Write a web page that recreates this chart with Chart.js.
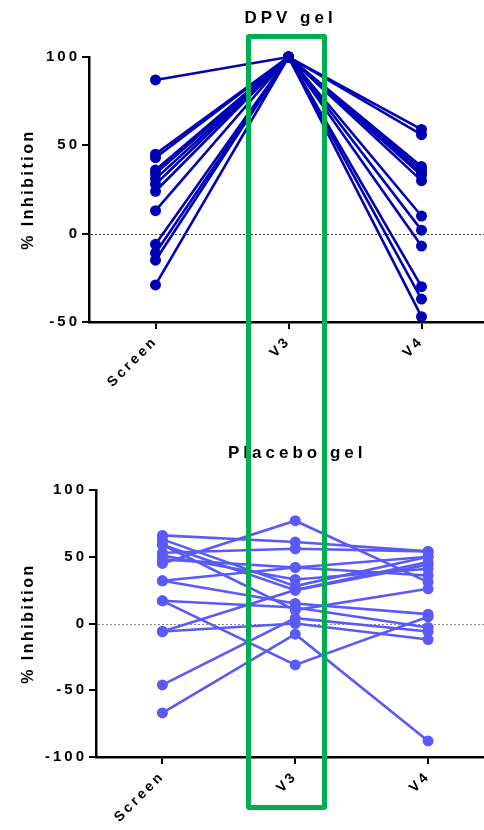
<!DOCTYPE html>
<html>
<head>
<meta charset="utf-8">
<script src="https://cdn.jsdelivr.net/npm/chart.js@4"></script>
<style>
  html, body { margin: 0; padding: 0; background: #fff; overflow: hidden; }
  #page { position: relative; width: 484px; height: 830px; overflow: hidden; }
  .panel { position: absolute; left: 0; }
  #highlight {
    position: absolute; left: 246px; top: 34px; width: 71px; height: 766px;
    border: 5px solid #00B050; border-radius: 3px; pointer-events: none;
  }
</style>
</head>
<body>
<div id="page">
  <div class="panel" style="top:0"><canvas id="dpvChart" width="500" height="400"></canvas></div>
  <div class="panel" style="top:400px"><canvas id="placeboChart" width="500" height="430"></canvas></div>
  <div id="highlight"></div>
</div>
<script>
const categories = ['Screen', 'V3', 'V4'];

// DPV gel arm, one entry per participant
const dpvScreen = [87, 45, 43, 36, 34, 31, 28, 24, 13, -6, -11, -15, -29];
const dpvV3 = [100, 100, 100, 100, 100, 100, 100, 100, 100, 100, 100, 100, 100];
const dpvV4 = [59, 56, 38, 36, 33, 34, 30, 10, 2, -7, -30, -37, -47];
const dpvTicks = [-50, 0, 50, 100];

// Placebo gel arm
const placeboScreen = [66, 63, 59, 53, 51, 48, 45, 32, 32, 17, 17, -6, -6, -46, -67, 59];
const placeboV3 = [61, 28, 25, 56, 33, 42, 77, 42, 15, 12, -31, 25, 0, 4, -8, 10];
const placeboV4 = [54, 50, 46, 54, 41, 50, 31, 36, 7, -3, 5, 44, -12, -6, -88, 26];
const placeboTicks = [-100, -50, 0, 50, 100];

const FONT = 'Arial, "Liberation Sans", sans-serif';

const spacing = {
  id: 'spacing',
  beforeUpdate(chart) { chart.ctx.letterSpacing = '3px'; },
  beforeDraw(chart) { chart.ctx.letterSpacing = '3px'; }
};

// dotted reference line at 0 and the text around the plot
const decorations = {
  id: 'decorations',
  beforeDatasetsDraw(chart, args, opts) {
    const { ctx, chartArea } = chart;
    const y = chart.scales.y.getPixelForValue(0);
    ctx.save();
    ctx.strokeStyle = opts.zeroColor;
    ctx.lineWidth = 1;
    ctx.setLineDash([2, 2]);
    ctx.beginPath();
    ctx.moveTo(chartArea.left + 2, Math.round(y) + 0.5);
    ctx.lineTo(chart.width, Math.round(y) + 0.5);
    ctx.stroke();
    ctx.restore();
  },
  afterDraw(chart, args, opts) {
    const { ctx, chartArea } = chart;
    ctx.save();
    ctx.fillStyle = '#000';
    ctx.letterSpacing = '4px';
    ctx.font = 'bold 17px ' + FONT;
    ctx.textAlign = 'center';
    ctx.textBaseline = 'middle';
    ctx.fillText(opts.title, (chartArea.left + chartArea.right) / 2 + 2, opts.titleY);
    ctx.letterSpacing = '2.5px';
    ctx.font = 'bold 16px ' + FONT;
    ctx.translate(29, (chartArea.top + chartArea.bottom) / 2);
    ctx.rotate(-Math.PI / 2);
    ctx.fillText('% Inhibition', 0, 0);
    ctx.restore();
  }
};

function makeChart(id, screen, v3, v4, ticks, color, box) {
  const datasets = screen.map((s, i) => ({
    data: [{ x: 0, y: s }, { x: 1, y: v3[i] }, { x: 2, y: v4[i] }],
    borderColor: color,
    backgroundColor: color,
    borderWidth: 2.6,
    pointRadius: 5.5,
    pointBorderWidth: 0,
    clip: false
  }));
  return new Chart(document.getElementById(id), {
    type: 'line',
    data: { datasets },
    plugins: [spacing, decorations],
    options: {
      responsive: false,
      animation: false,
      layout: { padding: { top: box.top, right: box.right, left: 0, bottom: 0 } },
      plugins: {
        legend: { display: false },
        tooltip: { enabled: false },
        decorations: { title: box.title, titleY: box.titleY, zeroColor: box.zeroColor }
      },
      scales: {
        x: {
          type: 'linear',
          min: -0.5,
          max: 2.5,
          afterBuildTicks: (scale) => { scale.ticks = [0, 1, 2].map((v) => ({ value: v })); },
          afterFit: (scale) => { scale.height = box.xHeight; },
          ticks: {
            callback: (v) => categories[v],
            minRotation: 45,
            maxRotation: 45,
            padding: 4,
            color: '#000',
            font: { family: FONT, size: 14, weight: 'bold' }
          },
          grid: { drawOnChartArea: false, tickLength: 7, color: '#000', lineWidth: 2 },
          border: { color: '#000', width: 2.5 }
        },
        y: {
          min: ticks[0],
          max: ticks[ticks.length - 1],
          afterBuildTicks: (scale) => { scale.ticks = ticks.map((v) => ({ value: v })); },
          afterFit: (scale) => { scale.width = box.yWidth; },
          ticks: {
            padding: 2,
            color: '#000',
            font: { family: FONT, size: 15, weight: 'bold' }
          },
          grid: { drawOnChartArea: false, tickLength: 7, color: '#000', lineWidth: 2 },
          border: { color: '#000', width: 2.5 }
        }
      }
    }
  });
}

makeChart('dpvChart', dpvScreen, dpvV3, dpvV4, dpvTicks, '#0000B4', {
  top: 57, right: 12, yWidth: 89, xHeight: 78, title: 'DPV gel', titleY: 18, zeroColor: '#333'
});
makeChart('placeboChart', placeboScreen, placeboV3, placeboV4, placeboTicks, '#5A5AFA', {
  top: 90, right: 3, yWidth: 96, xHeight: 73, title: 'Placebo gel', titleY: 53, zeroColor: '#888'
});
</script>
</body>
</html>
